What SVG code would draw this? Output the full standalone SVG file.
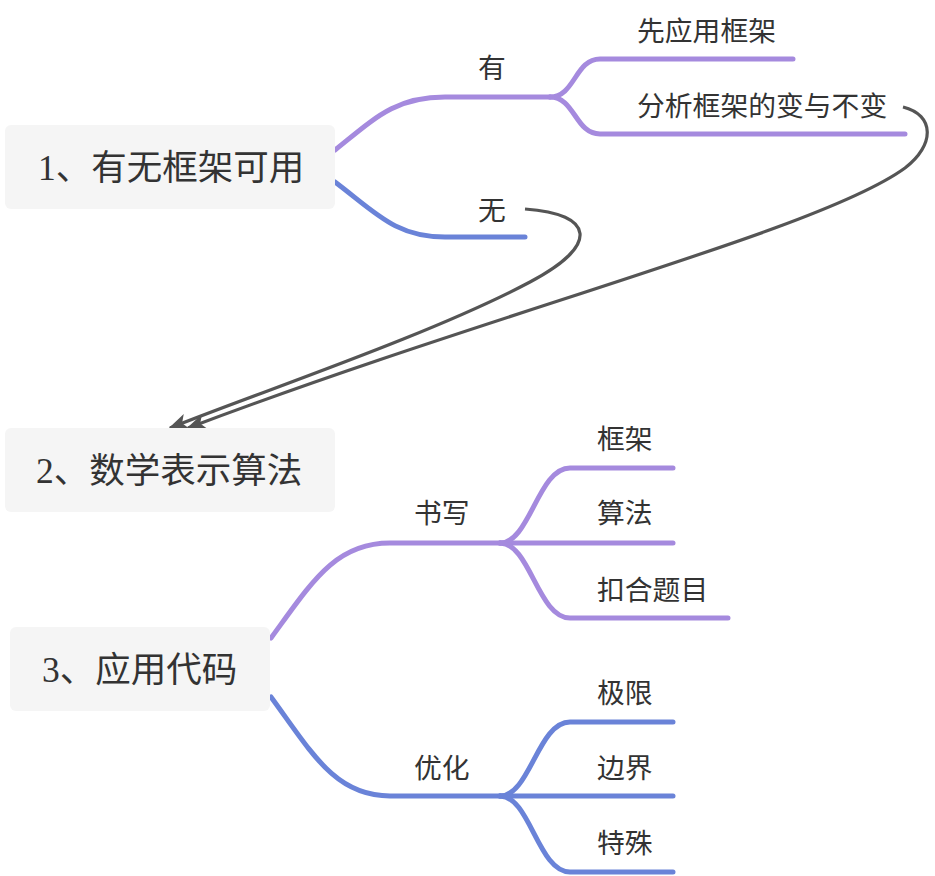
<svg xmlns="http://www.w3.org/2000/svg" width="935" height="876" viewBox="0 0 935 876">
<style>
.box{fill:#f5f5f5;}
.title{font-family:"Liberation Serif","Noto Sans CJK SC",serif;font-size:35.5px;fill:#333;}
.lbl{font-family:"Noto Sans CJK SC",sans-serif;font-size:27.8px;fill:#333;}
.p{fill:none;stroke:#a58ade;stroke-width:5;stroke-linecap:round;}
.b{fill:none;stroke:#6a83d8;stroke-width:5;stroke-linecap:round;}
.g{fill:none;stroke:#555;stroke-width:3.2;}
</style>
<defs>
<marker id="arr" markerUnits="userSpaceOnUse" markerWidth="22" markerHeight="18" refX="18" refY="8" orient="auto">
<path d="M0,0 L20,8 L0,16 L5,8 Z" fill="#555"/>
</marker>
</defs>
<rect width="935" height="876" fill="#fff"/>
<g id="connectors">
<path class="p" d="M335,150 C375,118 395,97 445,97 L550,97"/>
<path class="p" d="M550,97 C575,97 575,59 600,59 L793,59"/>
<path class="p" d="M550,97 C575,97 575,134 600,134 L905,134"/>
<path class="b" d="M335,182 C375,212 395,237 445,237 L525,237"/>
<path class="p" d="M271,638 C312,582 335,543 390,543 L500,543"/>
<path class="p" d="M500,543 C530,543 538,468 570,468 L673,468"/>
<path class="p" d="M500,543 L673,543"/>
<path class="p" d="M500,543 C530,543 538,618 570,618 L728,618"/>
<path class="b" d="M271,697 C312,753 335,796 390,796 L500,796"/>
<path class="b" d="M500,796 C530,796 538,722 570,722 L673,722"/>
<path class="b" d="M500,796 L673,796"/>
<path class="b" d="M500,796 C530,796 538,872 570,872 L673,872"/>
<path class="g" marker-end="url(#arr)" d="M525,209 C595,214 600,245 530,282 C430,335 260,392 170,428"/>
<path class="g" marker-end="url(#arr)" d="M903,107 C935,115 935,145 905,168 C820,230 500,310 188,428"/>
</g>
<g id="node1">
<rect class="box" x="5" y="125" width="330" height="84" rx="6"/>
<text class="title" x="38" y="180">1、有无框架可用</text>
</g>
<g id="node-you"><text class="lbl" x="478" y="78">有</text></g>
<g id="node-xian"><text class="lbl" x="637" y="41">先应用框架</text></g>
<g id="node-fenxi"><text class="lbl" x="637" y="116">分析框架的变与不变</text></g>
<g id="node-wu"><text class="lbl" x="478" y="220">无</text></g>
<g id="node2">
<rect class="box" x="5" y="428" width="330" height="84" rx="6"/>
<text class="title" x="36" y="483">2、数学表示算法</text>
</g>
<g id="node3">
<rect class="box" x="10" y="627" width="260" height="84" rx="6"/>
<text class="title" x="42" y="682">3、应用代码</text>
</g>
<g id="node-shuxie"><text class="lbl" x="414" y="523">书写</text></g>
<g id="node-kuangjia"><text class="lbl" x="597" y="449">框架</text></g>
<g id="node-suanfa"><text class="lbl" x="597" y="523">算法</text></g>
<g id="node-kouhe"><text class="lbl" x="597" y="600">扣合题目</text></g>
<g id="node-youhua"><text class="lbl" x="414" y="778">优化</text></g>
<g id="node-jixian"><text class="lbl" x="597" y="703">极限</text></g>
<g id="node-bianjie"><text class="lbl" x="597" y="778">边界</text></g>
<g id="node-teshu"><text class="lbl" x="597" y="853">特殊</text></g>
</svg>
